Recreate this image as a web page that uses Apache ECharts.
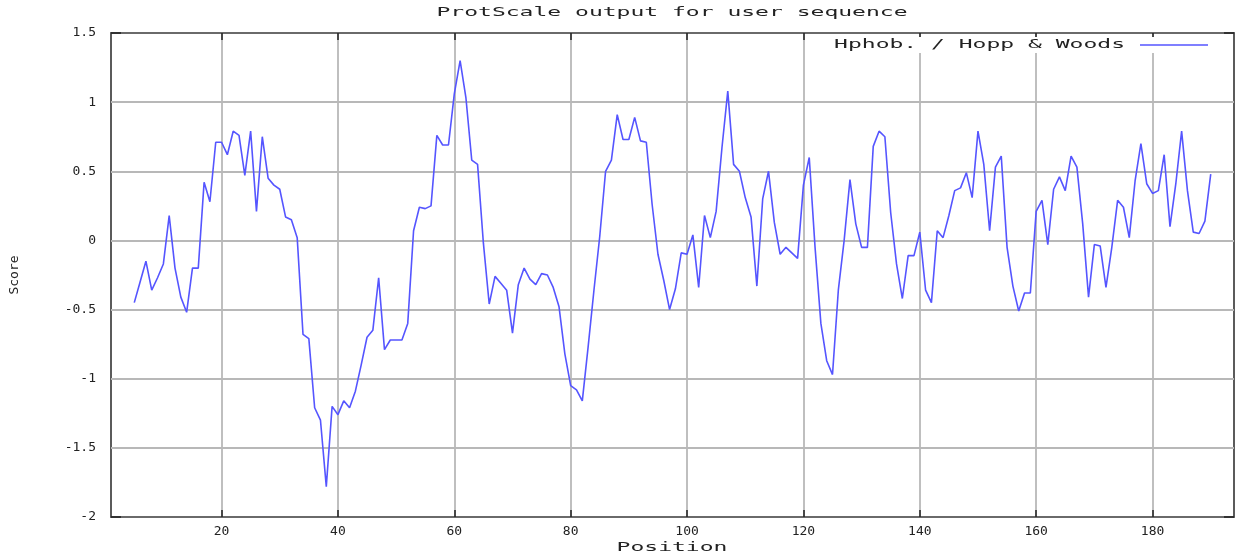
<!DOCTYPE html>
<html>
<head>
<meta charset="utf-8">
<script src="https://cdn.jsdelivr.net/npm/echarts@6/dist/echarts.min.js"></script>
<style>
html,body{margin:0;padding:0;background:#fff;}
#chart{width:1235px;height:560px;}
</style>
</head>
<body>
<div id="chart"></div>
<script>
const chartTitle = 'ProtScale output for user sequence';
const seriesName = 'Hphob. / Hopp & Woods';
const xAxisName = 'Position';
const yAxisName = 'Score';
const firstPosition = 5;
const xMin = 1;
const xMax = 194;
const xTickValues = [20, 40, 60, 80, 100, 120, 140, 160, 180];
const yMin = -2;
const yMax = 1.5;
const yInterval = 0.5;
const yGridValues = [-1.5, -1, -0.5, 0, 0.5, 1];
const scores = [
  -0.45, -0.3, -0.15, -0.36, -0.27, -0.17, 0.18, -0.2, -0.41, -0.52,
  -0.2, -0.2, 0.42, 0.28, 0.71, 0.71, 0.62, 0.79, 0.76, 0.47,
  0.79, 0.21, 0.75, 0.45, 0.4, 0.37, 0.17, 0.15, 0.02, -0.68,
  -0.71, -1.21, -1.3, -1.78, -1.2, -1.26, -1.16, -1.21, -1.09, -0.9,
  -0.7, -0.65, -0.27, -0.79, -0.72, -0.72, -0.72, -0.6, 0.07, 0.24,
  0.23, 0.25, 0.76, 0.69, 0.69, 1.06, 1.3, 1.03, 0.58, 0.55,
  -0.02, -0.46, -0.26, -0.31, -0.36, -0.67, -0.32, -0.2, -0.28, -0.32,
  -0.24, -0.25, -0.34, -0.48, -0.82, -1.05, -1.08, -1.16, -0.77, -0.36,
  0.03, 0.5, 0.58, 0.91, 0.73, 0.73, 0.89, 0.72, 0.71, 0.26,
  -0.1, -0.29, -0.5, -0.35, -0.09, -0.1, 0.04, -0.34, 0.18, 0.02,
  0.21, 0.67, 1.08, 0.55, 0.5, 0.31, 0.17, -0.33, 0.3, 0.5,
  0.13, -0.1, -0.05, -0.09, -0.13, 0.4, 0.6, -0.05, -0.6, -0.87,
  -0.97, -0.36, 0.0, 0.44, 0.12, -0.05, -0.05, 0.68, 0.79, 0.75,
  0.2, -0.17, -0.42, -0.11, -0.11, 0.06, -0.36, -0.45, 0.07, 0.02,
  0.18, 0.36, 0.38, 0.49, 0.31, 0.79, 0.55, 0.07, 0.53, 0.61,
  -0.05, -0.33, -0.51, -0.38, -0.38, 0.21, 0.29, -0.03, 0.37, 0.46,
  0.36, 0.61, 0.53, 0.12, -0.41, -0.03, -0.04, -0.34, -0.05, 0.29,
  0.24, 0.02, 0.43, 0.7, 0.41, 0.34, 0.36, 0.62, 0.1, 0.41,
  0.79, 0.36, 0.06, 0.05, 0.14, 0.48
];

const points = scores.map((v, i) => [firstPosition + i, v]);
const FONT = 'DejaVu Sans Mono';
const lineColor = '#5555ff';
const frameColor = '#505050';
const tickColor = '#202020';
const gridColor = '#b8b8b8';
const SX = 1.77;

const chart = echarts.init(document.getElementById('chart'), null, {renderer: 'canvas'});
const option = {
  animation: false,
  backgroundColor: '#fff',
  grid: {left: 111, right: 1, top: 33, bottom: 43, containLabel: false,
         show: true, backgroundColor: 'transparent', borderColor: frameColor, borderWidth: 1.5},
  xAxis: [{
    type: 'value', min: xMin, max: xMax, position: 'bottom',
    axisLine: {show: true, onZero: false, lineStyle: {color: frameColor, width: 1.5}},
    axisTick: {show: true, inside: true, length: 7, customValues: xTickValues, lineStyle: {color: tickColor, width: 1.5}},
    axisLabel: {show: true, customValues: xTickValues, margin: 8, fontFamily: FONT, fontSize: 13, color: '#222'},
    splitLine: {show: true, lineStyle: {color: gridColor, width: 1.8}}
  }, {
    type: 'value', min: xMin, max: xMax, position: 'top',
    axisLine: {show: true, onZero: false, lineStyle: {color: frameColor, width: 1.5}},
    axisTick: {show: true, inside: true, length: 7, customValues: xTickValues, lineStyle: {color: tickColor, width: 1.5}},
    axisLabel: {show: false},
    splitLine: {show: false}
  }],
  yAxis: [{
    type: 'value', min: yMin, max: yMax, interval: yInterval, position: 'left',
    axisLine: {show: true, onZero: false, lineStyle: {color: frameColor, width: 1.5}},
    axisTick: {show: true, inside: true, length: 10, lineStyle: {color: tickColor, width: 1.5}},
    axisLabel: {show: true, margin: 15, fontFamily: FONT, fontSize: 13, color: '#222'},
    splitLine: {show: true, lineStyle: {color: gridColor, width: 2}}
  }, {
    type: 'value', min: yMin, max: yMax, interval: yInterval, position: 'right',
    axisLine: {show: true, onZero: false, lineStyle: {color: frameColor, width: 1.5}},
    axisTick: {show: true, inside: true, length: 10, lineStyle: {color: tickColor, width: 1.5}},
    axisLabel: {show: false},
    splitLine: {show: false}
  }],
  series: [{
    name: seriesName,
    type: 'line',
    xAxisIndex: 0, yAxisIndex: 0,
    data: points,
    showSymbol: false,
    symbol: 'none',
    lineStyle: {color: lineColor, width: 1.6},
    z: 5,
    markLine: {
      silent: true,
      symbol: ['none', 'none'],
      label: {show: false},
      z: 1,
      lineStyle: {color: gridColor, width: 2, type: 'solid'},
      emphasis: {disabled: true},
      data: yGridValues.map(v => ({yAxis: v}))
    }
  }],
  graphic: [
    {type: 'text', z: 100, x: 672, y: 13, scaleX: SX, style: {text: chartTitle, x: 0, y: 0, align: 'center', verticalAlign: 'middle', fontFamily: FONT, fontSize: 13, fill: '#222'}},
    {type: 'rect', z: 99, shape: {x: 826, y: 37, width: 390, height: 16}, style: {fill: '#fff'}},
    {type: 'text', z: 100, x: 1125, y: 45, scaleX: SX, style: {text: seriesName, x: 0, y: 0, align: 'right', verticalAlign: 'middle', fontFamily: FONT, fontSize: 13, fill: '#222'}},
    {type: 'line', z: 100, shape: {x1: 1140, y1: 45, x2: 1208, y2: 45}, style: {stroke: lineColor, lineWidth: 1.6}},
    {type: 'text', z: 100, x: 672, y: 548, scaleX: SX, style: {text: xAxisName, x: 0, y: 0, align: 'center', verticalAlign: 'middle', fontFamily: FONT, fontSize: 13, fill: '#222'}},
    {type: 'text', z: 100, x: 15, y: 275, rotation: Math.PI / 2, style: {text: yAxisName, x: 0, y: 0, align: 'center', verticalAlign: 'middle', fontFamily: FONT, fontSize: 13, fill: '#222'}}
  ]
};
chart.setOption(option);
</script>
</body>
</html>
